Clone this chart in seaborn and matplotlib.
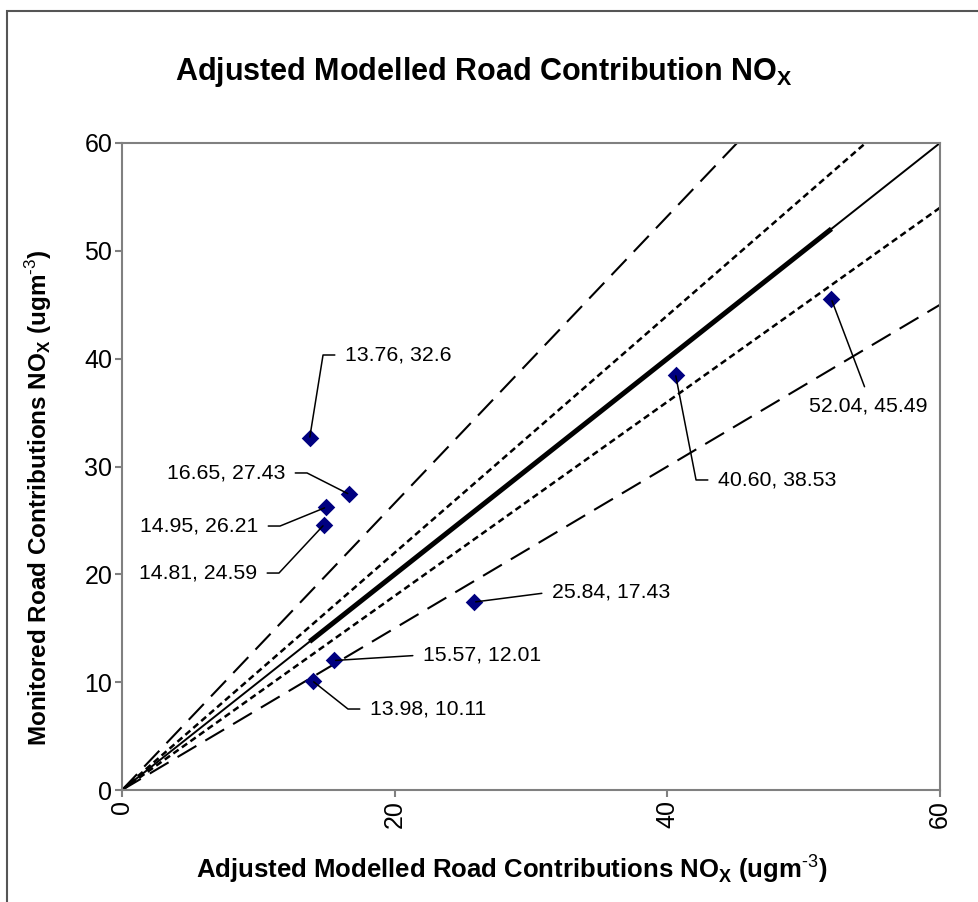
import math
import matplotlib
matplotlib.use("Agg")
import matplotlib.pyplot as plt
import numpy as np
import pandas as pd
import seaborn as sns
from matplotlib.patches import Rectangle

# data
modelled = [13.76, 16.65, 14.95, 14.81, 25.84, 15.57, 13.98, 40.60, 52.04]
monitored = [32.6, 27.43, 26.21, 24.59, 17.43, 12.01, 10.11, 38.53, 45.49]
point_labels = ["13.76, 32.6", "16.65, 27.43", "14.95, 26.21", "14.81, 24.59",
                "25.84, 17.43", "15.57, 12.01", "13.98, 10.11", "40.60, 38.53",
                "52.04, 45.49"]
ratio_slopes = [1.1, 0.9, 1.33, 0.75]
x_ticks = [0, 20, 40, 60]
y_ticks = [0, 10, 20, 30, 40, 50, 60]

# label placement (text anchor in data coords, alignment, leader kind)
label_pos = [(16.36, 40.34), (11.96, 29.40), (9.98, 24.48), (9.90, 20.12),
             (31.54, 18.36), (22.08, 12.52), (18.19, 7.51), (43.72, 28.75),
             (50.39, 35.61)]
label_ha = ["left", "right", "right", "right", "left", "left", "left", "left", "left"]
label_kind = ["elbow", "elbow", "elbow", "elbow", "straight", "straight", "elbow",
              "elbow", "top"]

sns.set_theme(style="white")
plt.rcParams["font.family"] = ["Liberation Sans", "DejaVu Sans"]
plt.rcParams["mathtext.fontset"] = "custom"
plt.rcParams["mathtext.rm"] = "Liberation Sans"
plt.rcParams["mathtext.bf"] = "Liberation Sans:bold"
plt.rcParams["text.color"] = "black"
plt.rcParams["axes.labelcolor"] = "black"

fig = plt.figure(figsize=(9.79, 9.02), dpi=100)
ax = fig.add_axes([122 / 979, 1 - 790 / 902, (940 - 122) / 979, (790 - 143) / 902])

xs = np.array([0, 60])
ax.plot(xs, xs, color="black", lw=1.4)
ax.plot([min(modelled), max(modelled)], [min(modelled), max(modelled)],
        color="black", lw=3.6, solid_capstyle="butt")
for s in ratio_slopes:
    if abs(s - 1) < 0.2:
        ax.plot(xs, s * xs, color="black", lw=1.8, dashes=(2.6, 1.6))
    else:
        ax.plot(xs, s * xs, color="black", lw=1.5, dashes=(10.5, 5))

df = pd.DataFrame({"modelled": modelled, "monitored": monitored})
sns.scatterplot(data=df, x="modelled", y="monitored", ax=ax, marker="D", s=80,
                color="#000080", edgecolor="#000080", linewidth=0, zorder=5)

ax.set_xlim(0, 60)
ax.set_ylim(0, 60)
ax.set_xticks(x_ticks)
ax.set_yticks(y_ticks)
ax.tick_params(axis="both", direction="out", length=5, width=1.5, color="#808080",
               labelsize=18, labelcolor="black", left=True, bottom=True, pad=2)
plt.setp(ax.get_xticklabels(), rotation=90)
for sp in ax.spines.values():
    sp.set_color("#808080")
    sp.set_linewidth(1.5)

ax.set_xlabel(r"Adjusted Modelled Road Contributions NO$_{\mathbf{X}}$ (ugm$^{\text{-3}}$)",
              fontsize=18.5, fontweight="bold")
ax.set_ylabel(r"Monitored Road Contributions NO$_{\mathbf{X}}$ (ugm$^{\text{-3}}$)",
              fontsize=17.5, fontweight="bold")
ax.xaxis.set_label_coords((512 - 122) / 818, -(852 - 790) / 647)
ax.yaxis.set_label_coords(-(122 - 54) / 818, (790 - 498) / 647)
fig.text(484 / 979, 1 - 72 / 902, r"Adjusted Modelled Road Contribution NO$_{\mathbf{X}}$",
         ha="center", va="center", fontsize=22, fontweight="bold")

# leader lines with an elbow next to the label
for x, y, lab, (tx, ty), ha, kind in zip(modelled, monitored, point_labels,
                                          label_pos, label_ha, label_kind):
    px, py = ax.transData.transform((x, y))
    qx, qy = ax.transData.transform((tx, ty))
    if kind == "elbow":
        cx = qx - 22 if ha == "left" else qx + 22
        ang = math.degrees(math.atan2(qy - py, cx - px))
        conn = f"angle,angleA=0,angleB={ang:.2f},rad=0"
        relpos = (0, 0.5) if ha == "left" else (1, 0.5)
    elif kind == "straight":
        conn = "arc3,rad=0"
        relpos = (0, 0.5)
    else:
        conn = "arc3,rad=0"
        relpos = (0.5, 1)
    ax.annotate(lab, xy=(x, y), xytext=(tx, ty), textcoords="data", ha=ha, va="center",
                fontsize=15.3, color="black", zorder=6,
                arrowprops=dict(arrowstyle="-", color="black", lw=1.1,
                                connectionstyle=conn, relpos=relpos,
                                shrinkA=5, shrinkB=1))

fig.add_artist(Rectangle((7 / 979, -0.2), 1.2, 1.2 - 11 / 902,
                         transform=fig.transFigure, fill=False,
                         edgecolor="#555555", lw=1.5, clip_on=False))

fig.savefig("out.png", dpi=100)
